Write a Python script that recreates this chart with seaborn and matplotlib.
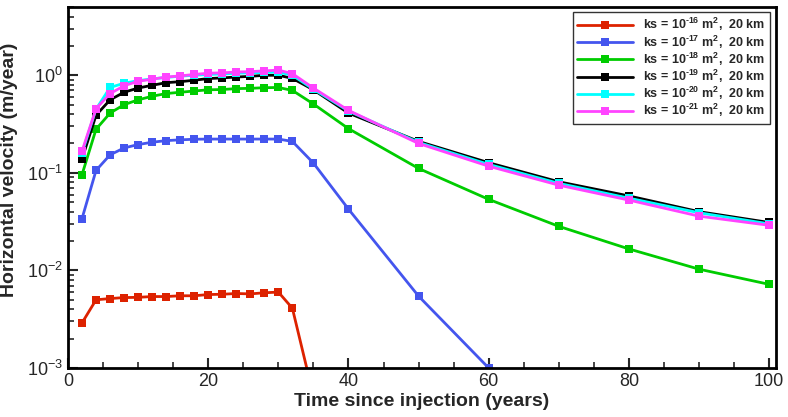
import numpy as np
import pandas as pd
import seaborn as sns
import matplotlib.pyplot as plt
from matplotlib.ticker import MultipleLocator, LogLocator, NullFormatter

# time points (years)
t_all = [2, 4, 6, 8, 10, 12, 14, 16, 18, 20, 22, 24, 26, 28, 30, 32, 35, 40, 50, 60, 70, 80, 90, 100]

# horizontal velocity (m/year)
v_16 = [0.0029, 0.0050, 0.00515, 0.00527, 0.0053, 0.0054, 0.0054, 0.0055, 0.0055, 0.00566,
        0.0057, 0.0058, 0.00575, 0.0059, 0.006, 0.0041, 0.00052]
v_17 = [0.034, 0.106, 0.153, 0.18, 0.195, 0.206, 0.214, 0.218, 0.221, 0.222, 0.222, 0.222,
        0.222, 0.222, 0.222, 0.21, 0.126, 0.0425, 0.00545, 0.001]
v_18 = [0.096, 0.28, 0.41, 0.50, 0.56, 0.61, 0.65, 0.67, 0.69, 0.71, 0.715, 0.73, 0.735, 0.746,
        0.75, 0.70, 0.508, 0.284, 0.111, 0.0535, 0.0283, 0.0166, 0.0103, 0.0072]
v_19 = [0.139, 0.39, 0.56, 0.67, 0.74, 0.79, 0.84, 0.86, 0.89, 0.925, 0.94, 0.96, 0.975, 1.0,
        1.0, 0.93, 0.71, 0.41, 0.21, 0.127, 0.081, 0.058, 0.040, 0.031]
v_20 = [0.16, 0.45, 0.75, 0.83, 0.88, 0.92, 0.95, 0.98, 1.0, 1.02, 1.03, 1.05, 1.06, 1.07,
        1.08, 1.0, 0.72, 0.43, 0.205, 0.122, 0.078, 0.055, 0.039, 0.030]
v_21 = [0.167, 0.455, 0.65, 0.78, 0.87, 0.91, 0.96, 0.985, 1.02, 1.05, 1.06, 1.08, 1.09, 1.11,
        1.13, 1.04, 0.74, 0.437, 0.20, 0.117, 0.0748, 0.0526, 0.036, 0.029]

labels = ['ks = 10$^{\\mathbf{\u2010%d}}$ m$^{\\mathbf{2}}$,  20 km' % k for k in (16, 17, 18, 19, 20, 21)]
series = [v_16, v_17, v_18, v_19, v_20, v_21]
colors = ['#dd2200', '#4455ee', '#00cc00', '#000000', '#00ffff', '#ff44ff']

rows = []
for lab, vals in zip(labels, series):
    for t, v in zip(t_all, vals):
        rows.append({'time': t, 'vel': v, 'case': lab})
df = pd.DataFrame(rows)

sns.set_style('white')
plt.rcParams['font.family'] = ['Liberation Sans', 'DejaVu Sans']
plt.rcParams['mathtext.fontset'] = 'custom'
plt.rcParams['mathtext.rm'] = 'Liberation Sans'
plt.rcParams['mathtext.bf'] = 'Liberation Sans:bold'
plt.rcParams['mathtext.it'] = 'Liberation Sans:italic'

fig = plt.figure(figsize=(7.88, 4.17), dpi=100)
ax = fig.add_axes([0.0863, 0.1175, 0.8987, 0.8655])

sns.lineplot(data=df, x='time', y='vel', hue='case', palette=colors, hue_order=labels,
             marker='s', markersize=6, markeredgewidth=0, linewidth=2, ax=ax)

ax.set_yscale('log')
ax.set_xlim(0, 101)
ax.set_ylim(1e-3, 5)
ax.xaxis.set_major_locator(MultipleLocator(20))
ax.xaxis.set_minor_locator(MultipleLocator(5))
ax.yaxis.set_major_locator(LogLocator(base=10, numticks=10))
ax.yaxis.set_minor_locator(LogLocator(base=10, subs=np.arange(2, 10), numticks=20))
ax.yaxis.set_minor_formatter(NullFormatter())
ax.tick_params(axis='both', which='major', direction='in', length=7, width=1.5,
               labelsize=13, left=True, bottom=True)
ax.tick_params(axis='both', which='minor', direction='in', length=4, width=1.2,
               left=True, bottom=True)
for s in ax.spines.values():
    s.set_linewidth(2)
    s.set_color('black')

ax.set_xlabel('Time since injection (years)', fontsize=14, fontweight='bold', labelpad=2)
ax.set_ylabel('Horizontal velocity (m/year)', fontsize=14, fontweight='bold')
ax.yaxis.set_label_coords(-0.07, 0.55)

leg = ax.legend(loc='upper right', fontsize=9, frameon=True, fancybox=False,
                handlelength=4.5, borderpad=0.35, labelspacing=0.0,
                bbox_to_anchor=(1.0, 1.004))
leg.get_frame().set_edgecolor('black')
leg.get_frame().set_linewidth(1)
for txt in leg.get_texts():
    txt.set_fontweight('bold')

fig.savefig('out.png', dpi=100)
